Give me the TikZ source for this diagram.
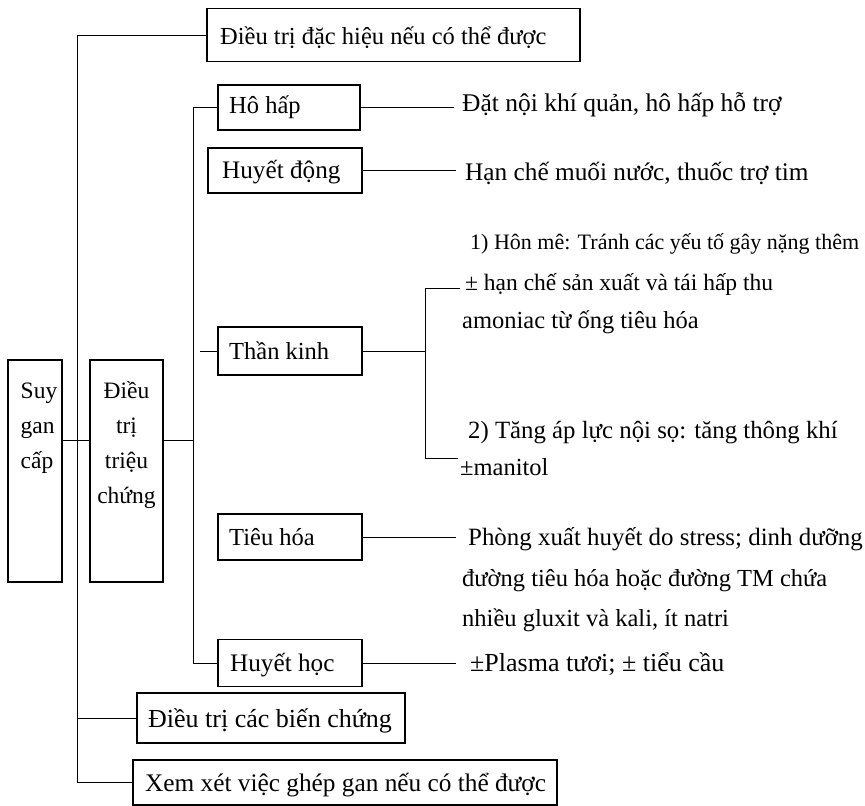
\documentclass[tikz,border=0pt]{standalone}
\usepackage{fontspec}
\setmainfont{Liberation Serif}
\begin{document}
\begin{tikzpicture}[x=1pt,y=-1pt,
  bx/.style={draw, line width=1.8pt, inner sep=0pt},
  bt/.style={anchor=base west, inner sep=0pt, font=\fontsize{24.5}{26}\selectfont},
  ln/.style={line width=0.9pt},
  rt/.style={anchor=base west, inner sep=0pt, font=\fontsize{24.5}{26}\selectfont}]
\useasboundingbox (0,0) rectangle (865,806);

% boxes (empty frames) and their texts
\node[bx, minimum width=373pt, minimum height=53pt] (top) at (393.5,35) {};
\node[bt] (topt) at (220,44) {Điều trị đặc hiệu nếu có thể được};
\node[bx, minimum width=142pt, minimum height=45pt] (hoh) at (289,107.5) {};
\node[bt] (hoht) at (229,113) {Hô hấp};
\node[bx, minimum width=154pt, minimum height=45pt] (hdo) at (285,170.5) {};
\node[bt, font=\fontsize{25.2}{27}\selectfont] (hdot) at (222,178) {Huyết động};
\node[bx, minimum width=144pt, minimum height=48pt] (tk) at (290,351) {};
\node[bt] (tkt) at (229,359) {Thần kinh};
\node[bx, minimum width=144pt, minimum height=46pt] (thoa) at (290,537) {};
\node[bt] (thoat) at (229,545) {Tiêu hóa};
\node[bx, minimum width=144pt, minimum height=47pt] (hhoc) at (290,663) {};
\node[bt, font=\fontsize{25.2}{27}\selectfont] (hhoct) at (230,671) {Huyết học};
\node[bx, minimum width=268pt, minimum height=50pt] (bc) at (271,718) {};
\node[bt, font=\fontsize{26}{28}\selectfont] (bct) at (148,727) {Điều trị các biến chứng};
\node[bx, minimum width=424pt, minimum height=45pt] (xem) at (345,782.5) {};
\node[bt, font=\fontsize{25.3}{27}\selectfont] (xemt) at (145,791) {Xem xét việc ghép gan nếu có thể được};

\node[bx, minimum width=54pt, minimum height=222pt] (suy) at (35,471) {};
\node[anchor=center, inner sep=0pt, align=left, font=\fontsize{23.5}{35}\selectfont] (suyt) at (39,428) {Suy\\gan\\cấp};
\node[bx, minimum width=73pt, minimum height=222pt] (dtr) at (126.5,471) {};
\node[anchor=center, inner sep=0pt, align=center, font=\fontsize{23.5}{35}\selectfont] (dtrt) at (126.5,445) {Điều\\trị\\triệu\\chứng};

% right texts
\node[rt, font=\fontsize{25.5}{27}\selectfont] (t1) at (462,111) {Đặt nội khí quản, hô hấp hỗ trợ};
\node[rt, font=\fontsize{25.3}{27}\selectfont] (t2) at (465,180) {Hạn chế muối nước, thuốc trợ tim};
\node[rt, font=\fontsize{22}{24}\selectfont] (t3a) at (470,249) {1) Hôn mê: Tránh các yếu tố gây nặng thêm};
\node[rt, font=\fontsize{23.5}{25}\selectfont] (t3b) at (465,290) {± hạn chế sản xuất và tái hấp thu};
\node[rt] (t3c) at (462,328) {amoniac từ ống tiêu hóa};
\node[rt, font=\fontsize{24.8}{26}\selectfont] (t4a) at (468,438) {2) Tăng áp lực nội sọ: tăng thông khí};
\node[rt] (t4b) at (460,475) {±manitol};
\node[rt, font=\fontsize{24.9}{26}\selectfont] (t5a) at (468,545) {Phòng xuất huyết do stress; dinh dưỡng};
\node[rt] (t5b) at (462,586) {đường tiêu hóa hoặc đường TM chứa};
\node[rt] (t5c) at (462,626) {nhiều gluxit và kali, ít natri};
\node[rt, font=\fontsize{26}{28}\selectfont] (t6) at (470,671) {±Plasma tươi; ± tiểu cầu};

% helper coordinates
\coordinate (tk0) at (77,0);
\coordinate (v) at (193,0);
\coordinate (mid) at (0,440);
\coordinate (brt) at (425,288);
\coordinate (brb) at (425,458);
\coordinate (brte) at (460,288);
\coordinate (brbe) at (458,458);

% main trunk
\draw[ln] (top.west) -| (tk0 |- xem.west) -- (xem.west);
\draw[ln] (bc.west) -- (bc.west -| tk0);
\draw[ln] (suy.east |- mid) -- (dtr.west |- mid);

% second trunk
\draw[ln] (dtr.east |- mid) -- (v |- mid);
\draw[ln] (hoh.west) -| (v |- hhoc.west) -- (hhoc.west);
\draw[ln] (tk.west) -- ++(-17,0);

% right connectors
\draw[ln, shorten >=8pt] (hoh.east) -- (hoh.east -| t1.west);
\draw[ln, shorten >=9pt] (hdo.east) -- (hdo.east -| t2.west);
\draw[ln] (tk.east) -- (brt |- tk.east);
\draw[ln] (brte) -- (brt) -- (brb) -- (brbe);
\draw[ln, shorten >=12pt] (thoa.east) -- (thoa.east -| t5a.west);
\draw[ln, shorten >=14pt] (hhoc.east) -- (hhoc.east -| t6.west);
\end{tikzpicture}
\end{document}
